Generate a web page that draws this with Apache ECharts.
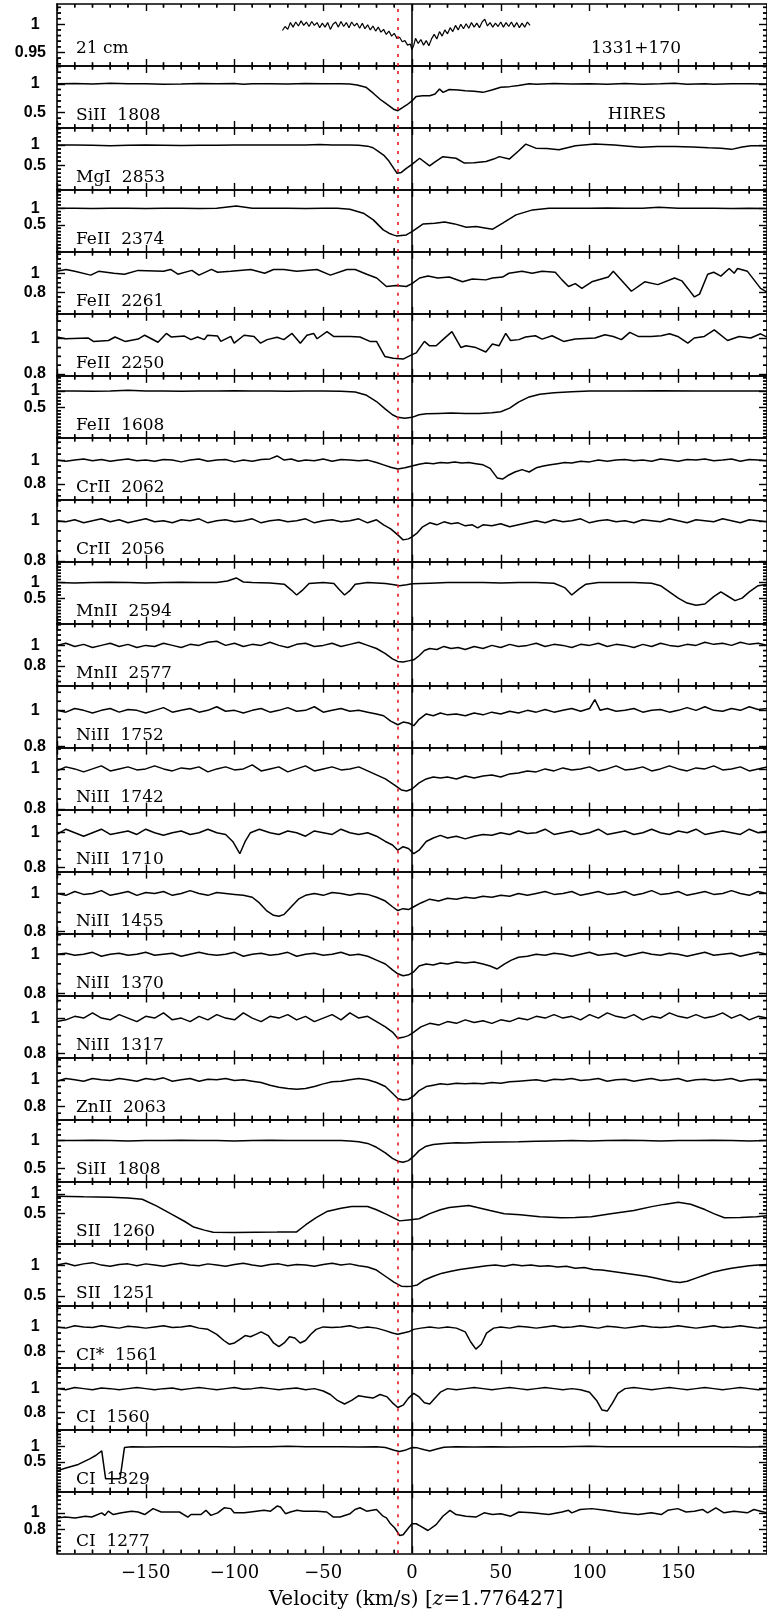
<!DOCTYPE html>
<html><head><meta charset="utf-8">
<script src="https://cdn.jsdelivr.net/npm/echarts@6/dist/echarts.min.js"></script>
<style>html,body{margin:0;padding:0;background:#fff}#c{width:767px;height:1615px}</style>
</head><body><div id="c"></div>
<script>
// ---------------- DATA ----------------
const panelNames = ['21 cm','SiII  1808','MgI  2853','FeII  2374','FeII  2261','FeII  2250','FeII  1608','CrII  2062','CrII  2056','MnII  2594','MnII  2577','NiII  1752','NiII  1742','NiII  1710','NiII  1455','NiII  1370','NiII  1317','ZnII  2063','SiII  1808','SII  1260','SII  1251','CI*  1561','CI  1560','CI  1329','CI  1277'];
const yMin = [0.926,0.23,-0.113,-0.31,0.572,0.79,-0.42,0.666,0.796,-0.326,0.61,0.793,0.797,0.778,0.789,0.789,0.775,0.704,0.265,-0.259,0.349,0.673,0.656,-0.457,0.52];
const yMax = [1.036,1.31,1.42,1.55,1.225,1.141,1.46,1.188,1.105,1.674,1.21,1.137,1.106,1.132,1.115,1.106,1.129,1.167,1.381,1.323,1.351,1.174,1.18,1.566,1.256];
const yLowLabel = [0.95,0.5,0.5,0.5,0.8,0.8,0.5,0.8,0.8,0.5,0.8,0.8,0.8,0.8,0.8,0.8,0.8,0.8,0.5,0.5,0.5,0.8,0.8,0.5,0.8];
const yHighLabel = [1,1,1,1,1,1,1,1,1,1,1,1,1,1,1,1,1,1,1,1,1,1,1,1,1];
const yMinorStep = [0.01,0.1,0.1,0.1,0.05,0.05,0.1,0.05,0.05,0.1,0.05,0.05,0.05,0.05,0.05,0.05,0.05,0.05,0.1,0.1,0.1,0.05,0.05,0.1,0.05];
const xRange = [-200, 200];
const xMajorStep = 50;
const xMinorStep = 10;
const zeroLineV = 0;
const redLineV = -8;

const cm21 = [[-73,0.989],[-71.5,0.996],[-70,0.991],[-68.5,1.003],[-67,0.995],[-65.5,1.004],[-64,0.997],[-62.5,1.006],[-61,0.998],[-59.5,1.004],[-58,0.996],[-56.5,1.005],[-55,0.998],[-53.5,1.003],[-52,0.994],[-50.5,1.002],[-49,0.995],[-47.5,1.003],[-46,0.991],[-44.5,1.0],[-43,1.004],[-41.5,0.995],[-40,1.005],[-38.5,0.996],[-37,1.003],[-35.5,0.994],[-34,1.004],[-32.5,0.997],[-31,1.002],[-29.5,0.993],[-28,1.002],[-26.5,0.992],[-25,0.999],[-23.5,0.99],[-22,0.997],[-20.5,0.988],[-19,0.995],[-17.5,0.986],[-16,0.991],[-14.5,0.982],[-13,0.988],[-11.5,0.979],[-10,0.984],[-8.5,0.975],[-7,0.977],[-5.5,0.969],[-4,0.971],[-2.5,0.963],[-1,0.965],[0,0.955],[1,0.963],[2,0.975],[3.5,0.966],[5,0.973],[6.5,0.963],[8,0.971],[9.5,0.962],[11,0.974],[12.5,0.982],[14,0.974],[15.5,0.987],[17,0.979],[18.5,0.99],[20,0.983],[21.5,0.994],[23,0.987],[24.5,0.998],[26,0.99],[27.5,1.0],[29,0.992],[30.5,1.001],[32,0.993],[33.5,1.003],[35,0.995],[36.5,1.002],[38,0.994],[39.5,1.004],[41,1.009],[42.5,0.997],[44,1.003],[45.5,0.995],[47,1.002],[48.5,0.996],[50,1.004],[51.5,0.995],[53,1.003],[54.5,0.996],[56,1.004],[57.5,0.995],[59,1.003],[60.5,0.994],[62,1.002],[63.5,0.995],[65,1.004],[66.5,0.998]];
const si1808a = [[-200,1.0],[-190,1.005],[-180,0.995],[-170,1.01],[-160,0.998],[-150,1.0],[-140,0.99],[-130,0.995],[-120,1.003],[-110,0.998],[-100,1.005],[-95,0.99],[-90,1.0],[-80,1.0],[-70,0.995],[-60,1.005],[-50,1.0],[-40,1.0],[-35,0.995],[-31,0.98],[-26,0.94],[-22,0.84],[-18,0.73],[-14,0.64],[-10,0.55],[-8,0.53],[-6,0.57],[-3,0.63],[0,0.70],[2.4,0.78],[6,0.79],[10,0.79],[13,0.82],[15.5,0.91],[17.5,0.85],[21,0.90],[26,0.89],[30,0.88],[35,0.87],[40,0.85],[45,0.89],[50,0.94],[55,0.95],[60,0.97],[66,1.0],[70,0.99],[80,1.005],[90,0.995],[100,1.0],[110,0.99],[120,1.005],[130,0.99],[140,1.0],[148,1.01],[155,0.99],[165,1.0],[170,0.99],[180,1.0],[190,1.0],[200,0.995]];
const mg2853 = [[-200,1.0],[-190,1.0],[-180,0.99],[-170,0.98],[-160,0.99],[-150,0.995],[-140,0.99],[-130,0.985],[-120,0.99],[-110,0.99],[-100,0.995],[-90,1.0],[-80,1.0],[-70,1.0],[-60,1.0],[-52,1.01],[-45,1.0],[-40,1.0],[-35,1.0],[-30,0.99],[-25,0.97],[-22,0.93],[-19,0.84],[-16,0.75],[-13,0.6],[-10,0.40],[-8.4,0.30],[-6,0.32],[-3.2,0.42],[0,0.52],[4.3,0.67],[9.9,0.48],[13,0.58],[17.4,0.71],[24.8,0.67],[29.5,0.55],[35,0.56],[41.7,0.59],[46,0.65],[49.2,0.71],[54.8,0.65],[60,0.85],[64.1,1.02],[69.7,0.92],[76,0.91],[82.8,0.88],[92.1,0.98],[103,1.02],[114,1.0],[122,0.97],[129,0.94],[138,0.96],[148,0.96],[158,0.95],[167,0.93],[174,0.92],[180,0.89],[186,0.95],[191,0.98],[200,0.98]];
const fe2374 = [[-200,1.0],[-190,1.0],[-180,0.99],[-170,1.0],[-160,1.0],[-150,0.99],[-140,1.0],[-130,1.0],[-120,0.99],[-110,1.0],[-99,1.07],[-90,1.0],[-80,1.0],[-70,1.0],[-60,0.99],[-50,1.0],[-42,1.0],[-35,0.97],[-27.4,0.85],[-21.8,0.65],[-16.2,0.35],[-13,0.25],[-10.6,0.2],[-8.8,0.17],[-3.2,0.2],[0,0.3],[6.3,0.53],[12.8,0.55],[18.4,0.59],[24,0.53],[30.6,0.43],[36.2,0.45],[41,0.41],[45.5,0.37],[51.1,0.55],[58.6,0.8],[67.9,0.95],[77.2,1.0],[90,1.0],[100,1.0],[110,1.01],[120,1.0],[130,1.0],[139,1.03],[150,1.0],[160,1.0],[170,1.0],[180,0.99],[190,1.0],[200,0.99]];
const fe2261 = [[-200,1.02],[-195,1.04],[-190,1.02],[-181,0.98],[-176.6,1.02],[-168,1.0],[-162,0.99],[-154.3,1.03],[-140,1.02],[-136,1.04],[-131.9,0.99],[-124,1.03],[-120,0.98],[-113,1.04],[-109.5,1.01],[-102,1.02],[-90.8,1.04],[-83,1.0],[-78,1.04],[-72.2,1.04],[-65,1.02],[-53.5,1.04],[-46,0.98],[-36.7,1.04],[-32,1.04],[-25.5,0.99],[-19.9,0.95],[-14.4,0.86],[-8.8,0.87],[-3.2,0.86],[0,0.89],[4.3,0.95],[9,0.97],[14.5,0.95],[21,0.96],[28.5,0.91],[34,0.94],[41.6,0.93],[45.3,0.95],[51,0.96],[54.6,1.0],[62,1.02],[67.7,1.0],[73.3,1.02],[80.7,1.01],[84.5,0.93],[88.2,0.86],[92,0.89],[95.7,0.84],[101.3,0.91],[110.6,0.96],[113.4,1.02],[123.6,0.81],[131.1,0.91],[138.5,0.88],[147.9,0.95],[152,0.92],[155.4,0.84],[159.1,0.75],[162,0.78],[166.6,0.99],[170,1.01],[174,0.97],[178.7,1.05],[181.5,1.0],[183.4,1.05],[189,1.02],[196.4,0.84],[200,0.8]];
const fe2250 = [[-200,1.01],[-195.3,1.0],[-182.3,1.004],[-179.5,0.985],[-171,0.99],[-167.3,1.01],[-161.7,0.985],[-154.3,0.998],[-150.6,1.02],[-143.1,0.98],[-138.4,1.03],[-135.7,1.01],[-128.2,1.015],[-124.5,0.995],[-120.8,1.01],[-117,0.995],[-115.2,1.02],[-109.5,1.015],[-107.7,0.985],[-102.1,1.013],[-100.2,0.975],[-94.6,1.02],[-89,1.013],[-85.3,0.975],[-81.6,0.995],[-76,1.008],[-72.2,0.995],[-67.6,1.03],[-62.9,0.975],[-59.2,1.02],[-55.4,1.03],[-53.5,1.0],[-47.9,1.04],[-44.2,1.013],[-34.9,1.013],[-29.3,1.01],[-23.7,0.985],[-20,0.985],[-15.3,0.90],[-10.6,0.89],[-5,0.885],[0,0.91],[2.4,0.92],[7,0.985],[9.9,0.96],[13.6,0.96],[17.4,0.995],[22.5,1.04],[27.6,0.95],[30.4,0.96],[36,0.95],[41.6,0.925],[45.3,0.97],[49,0.96],[52.8,1.03],[55.5,0.99],[60.2,0.995],[64,1.01],[69.5,1.017],[73.3,0.998],[78.9,1.017],[85.4,0.985],[92,0.998],[103.1,1.004],[108.7,1.023],[113.4,1.013],[118,0.995],[122.7,1.036],[127.4,1.013],[134.8,1.013],[140.4,1.017],[145.1,1.028],[149.7,1.013],[155.4,0.975],[159,1.004],[164.7,1.013],[170.3,1.05],[177.8,0.99],[184.3,1.013],[190.8,1.004],[196.4,1.028],[200,1.01]];
const fe1608 = [[-200,1.0],[-190,1.0],[-180,0.99],[-170,1.0],[-160,1.02],[-150,1.0],[-140,1.0],[-130,0.99],[-120,1.0],[-110,1.0],[-100,1.01],[-90,1.0],[-80,1.0],[-70,0.99],[-60,1.0],[-50,1.0],[-40,0.99],[-32,0.97],[-26,0.88],[-20,0.68],[-15,0.45],[-11,0.28],[-8,0.2],[-4,0.17],[0,0.2],[4,0.28],[8,0.31],[15,0.32],[22,0.33],[30,0.32],[38,0.32],[45,0.34],[50,0.37],[55,0.48],[60,0.66],[66,0.82],[72,0.9],[80,0.95],[90,0.98],[100,1.0],[120,1.0],[140,1.01],[160,1.0],[180,1.0],[200,1.0]];
const cr2062 = [[-200,1.0],[-195,0.99],[-190,1.0],[-185,1.01],[-180,0.995],[-175,1.005],[-170,0.99],[-165,1.0],[-160,1.01],[-155,0.995],[-150,1.0],[-145,0.99],[-140,1.005],[-135,1.0],[-130,0.985],[-125,1.0],[-120,1.01],[-115,0.99],[-110,1.0],[-105,1.005],[-100,0.985],[-95,1.0],[-90,0.99],[-85,1.005],[-80,1.01],[-76,1.035],[-72,1.0],[-68,1.01],[-64,0.99],[-60,1.0],[-55,0.995],[-50,1.01],[-45,0.99],[-40,1.005],[-35,1.0],[-30,0.995],[-25,1.0],[-20,0.98],[-16,0.96],[-12,0.94],[-8,0.925],[-4,0.935],[0,0.95],[4,0.965],[8,0.975],[12,0.97],[16,0.98],[20,0.975],[24,0.985],[28,0.975],[32,0.98],[36,0.97],[40,0.96],[44,0.93],[48,0.85],[51,0.84],[54,0.87],[58,0.9],[62,0.92],[66,0.9],[70,0.935],[74,0.95],[78,0.96],[82,0.97],[86,0.98],[90,0.975],[95,0.99],[100,0.985],[105,1.0],[110,0.99],[115,1.0],[120,1.005],[125,0.995],[130,1.0],[135,0.99],[140,1.01],[145,1.0],[150,0.99],[155,1.005],[160,1.0],[165,1.01],[170,0.995],[175,1.0],[180,1.01],[185,0.99],[190,1.005],[195,1.0],[200,0.995]];
const cr2056 = [[-200,1.0],[-195,0.995],[-190,1.005],[-185,0.99],[-180,1.0],[-175,1.01],[-170,0.995],[-165,1.005],[-160,0.99],[-155,1.0],[-150,1.01],[-145,0.995],[-140,1.0],[-135,0.99],[-130,1.005],[-125,1.0],[-120,1.01],[-115,0.99],[-110,1.0],[-105,1.005],[-100,0.995],[-95,1.0],[-90,1.01],[-85,0.99],[-80,1.0],[-75,1.005],[-70,0.995],[-65,1.0],[-60,1.01],[-55,0.99],[-50,1.0],[-45,1.005],[-40,0.995],[-35,1.0],[-30,1.01],[-25,0.99],[-20,1.005],[-16,0.98],[-12,0.96],[-8,0.93],[-5,0.905],[-2,0.91],[0,0.92],[3,0.94],[6,0.97],[10,0.99],[14,0.98],[18,0.995],[22,0.985],[26,0.99],[30,0.975],[34,0.98],[37,0.965],[40,0.98],[45,0.975],[50,0.985],[55,0.97],[60,0.98],[65,0.99],[70,1.0],[75,0.99],[80,1.005],[85,0.995],[90,1.0],[95,1.01],[100,0.99],[105,1.0],[110,1.005],[115,0.995],[120,1.0],[125,0.99],[130,1.005],[135,1.0],[140,0.995],[145,1.01],[150,1.0],[155,0.99],[160,1.005],[165,1.0],[170,0.995],[175,1.01],[180,1.0],[185,0.99],[190,1.005],[195,1.0],[200,0.995]];
const mn2594 = [[-200,1.0],[-190,0.99],[-180,1.0],[-170,1.01],[-160,1.0],[-150,0.99],[-140,1.0],[-130,1.01],[-120,1.0],[-110,1.0],[-104,1.05],[-99,1.15],[-95,1.02],[-90,1.0],[-80,0.99],[-72,0.95],[-68,0.76],[-65,0.6],[-62,0.74],[-58,0.97],[-50,1.0],[-44,0.97],[-41,0.78],[-38,0.6],[-35,0.74],[-32,0.95],[-25,1.0],[-15,0.97],[-10,0.93],[-7,0.9],[-3,0.93],[0,0.96],[10,0.98],[20,1.0],[30,1.0],[40,1.0],[50,0.99],[60,1.0],[70,1.0],[80,0.98],[86,0.84],[90,0.6],[94,0.79],[98,0.95],[105,1.0],[115,1.0],[125,1.0],[135,0.98],[140,0.9],[145,0.7],[150,0.5],[155,0.34],[160,0.27],[165,0.31],[170,0.55],[174,0.7],[178,0.56],[182,0.42],[186,0.5],[190,0.7],[195,0.9],[200,0.95]];
const mn2577 = [[-200,1.0],[-195,1.02],[-190,0.99],[-185,1.01],[-180,0.98],[-175,1.0],[-170,1.02],[-165,0.99],[-160,1.01],[-155,0.98],[-150,1.0],[-145,0.99],[-140,1.02],[-135,1.0],[-130,0.98],[-125,1.01],[-120,1.0],[-115,1.03],[-110,1.04],[-105,1.0],[-100,1.02],[-95,0.99],[-90,1.01],[-85,1.0],[-80,1.03],[-75,1.0],[-70,0.98],[-65,1.01],[-60,1.02],[-55,0.99],[-50,1.0],[-45,1.02],[-40,0.99],[-35,1.01],[-30,1.03],[-25,1.0],[-20,0.97],[-15,0.92],[-11,0.87],[-8,0.845],[-5,0.84],[-2,0.85],[1,0.86],[4,0.9],[7,0.95],[10,0.97],[14,0.96],[18,0.99],[22,0.97],[26,0.98],[30,0.96],[35,0.99],[40,0.97],[45,1.0],[50,0.98],[55,1.01],[60,0.99],[65,1.0],[70,1.02],[75,0.99],[80,1.01],[85,1.0],[90,0.98],[95,1.01],[100,1.0],[105,1.02],[110,0.99],[115,1.01],[120,1.0],[125,0.98],[130,1.01],[135,0.99],[140,1.02],[145,1.0],[150,0.99],[155,1.01],[160,1.0],[165,1.03],[170,1.01],[175,1.02],[180,1.0],[185,1.03],[190,1.01],[195,1.02],[200,1.0]];
const ni1752 = [[-200,1.0],[-195,0.99],[-190,1.01],[-185,1.0],[-180,0.985],[-175,1.0],[-170,1.01],[-165,0.99],[-160,1.005],[-155,1.0],[-150,0.985],[-145,1.0],[-140,1.015],[-135,0.99],[-130,1.0],[-125,1.01],[-120,0.99],[-115,1.0],[-110,1.02],[-105,0.995],[-100,1.0],[-95,0.985],[-90,1.0],[-85,1.01],[-80,0.99],[-75,1.0],[-70,1.015],[-65,0.995],[-60,1.0],[-55,1.02],[-50,0.99],[-45,1.0],[-40,1.01],[-35,0.995],[-30,1.0],[-25,0.99],[-20,0.98],[-16,0.97],[-12,0.94],[-8,0.92],[-5,0.935],[-2,0.93],[1,0.915],[4,0.95],[8,0.98],[12,0.97],[16,0.985],[20,0.975],[25,0.98],[30,0.97],[35,0.985],[40,0.975],[45,0.99],[50,0.98],[55,0.995],[60,0.985],[65,1.0],[70,0.99],[75,1.005],[80,0.99],[85,1.0],[90,1.01],[95,0.995],[100,1.01],[103,1.06],[106,1.0],[110,1.01],[115,0.995],[120,1.0],[125,1.01],[130,0.99],[135,1.0],[140,1.005],[145,0.99],[150,1.0],[155,1.015],[160,1.0],[165,1.02],[170,1.0],[175,0.995],[180,1.01],[185,1.0],[190,1.02],[195,1.005],[200,1.01]];
const ni1742 = [[-200,0.99],[-195,1.01],[-190,1.0],[-185,0.985],[-180,1.0],[-175,1.015],[-170,0.99],[-165,1.0],[-160,1.01],[-155,0.995],[-150,1.0],[-145,1.015],[-140,1.0],[-135,0.99],[-130,1.005],[-125,1.0],[-120,1.01],[-115,0.985],[-110,1.0],[-105,1.01],[-100,0.995],[-95,1.0],[-90,1.02],[-85,0.99],[-80,1.0],[-75,1.01],[-70,0.985],[-65,1.0],[-60,1.015],[-55,0.99],[-50,1.0],[-45,1.01],[-40,0.995],[-35,1.0],[-30,1.01],[-25,0.99],[-20,0.97],[-15,0.95],[-10,0.92],[-6,0.895],[-3,0.89],[0,0.9],[4,0.93],[8,0.95],[12,0.96],[16,0.955],[20,0.96],[25,0.95],[30,0.965],[35,0.955],[40,0.965],[45,0.97],[50,0.96],[55,0.975],[60,0.98],[65,0.99],[70,0.985],[75,1.0],[80,0.99],[85,1.005],[90,0.995],[95,1.0],[100,1.01],[105,0.99],[110,1.0],[115,1.015],[120,0.995],[125,1.0],[130,1.01],[135,0.99],[140,1.0],[145,1.015],[150,1.0],[155,0.99],[160,1.005],[165,1.0],[170,1.015],[175,0.995],[180,1.0],[185,1.01],[190,0.99],[195,1.0],[200,1.01]];
const ni1710 = [[-200,0.99],[-195,1.02],[-190,1.0],[-185,0.98],[-180,1.0],[-175,1.02],[-170,0.99],[-165,1.0],[-160,1.01],[-155,0.99],[-150,1.02],[-145,1.0],[-140,0.985],[-135,1.0],[-130,1.01],[-125,0.99],[-120,1.0],[-115,1.02],[-110,1.0],[-105,0.99],[-101,0.95],[-97,0.88],[-94,0.95],[-91,1.0],[-86,1.02],[-80,1.0],[-75,0.99],[-70,1.01],[-65,1.0],[-60,0.98],[-55,1.01],[-50,1.0],[-45,0.99],[-40,1.02],[-35,1.0],[-30,0.99],[-25,1.0],[-20,0.98],[-15,0.95],[-11,0.93],[-8,0.9],[-5,0.92],[-2,0.91],[1,0.88],[4,0.9],[8,0.95],[12,0.97],[16,0.985],[20,0.97],[25,0.98],[30,0.965],[35,0.98],[40,0.99],[45,0.985],[50,1.0],[55,0.99],[60,1.01],[65,0.995],[70,1.0],[75,1.02],[80,0.99],[85,1.0],[90,1.01],[95,0.99],[100,1.0],[105,1.02],[110,0.99],[115,1.0],[120,1.01],[125,0.99],[130,1.0],[135,1.02],[140,1.0],[145,0.99],[150,1.01],[155,1.0],[160,1.02],[165,0.99],[170,1.0],[175,1.01],[180,1.0],[185,0.99],[190,1.02],[195,1.0],[200,1.01]];
const ni1455 = [[-200,1.0],[-195,0.99],[-190,1.01],[-185,0.995],[-180,1.0],[-175,1.015],[-170,0.99],[-165,1.0],[-160,1.01],[-155,0.99],[-150,1.005],[-145,1.0],[-140,1.01],[-135,0.99],[-130,1.0],[-125,1.015],[-120,1.0],[-115,0.99],[-110,1.005],[-105,1.0],[-100,0.995],[-95,0.99],[-90,0.98],[-86,0.95],[-82,0.91],[-78,0.885],[-75,0.88],[-72,0.89],[-68,0.93],[-64,0.97],[-60,0.99],[-55,1.0],[-50,0.99],[-45,1.005],[-40,1.0],[-35,0.99],[-30,1.0],[-25,0.995],[-20,0.98],[-15,0.96],[-11,0.93],[-8,0.91],[-5,0.92],[-2,0.915],[1,0.93],[5,0.95],[10,0.97],[15,0.96],[20,0.975],[25,0.97],[30,0.98],[35,0.975],[40,0.985],[45,0.98],[50,0.99],[55,0.985],[60,1.0],[65,0.99],[70,1.0],[75,1.01],[80,0.995],[85,1.0],[90,1.01],[95,0.99],[100,1.0],[105,1.01],[110,0.995],[115,1.0],[120,1.01],[125,0.99],[130,1.0],[135,1.015],[140,0.995],[145,1.0],[150,1.01],[155,0.99],[160,1.0],[165,1.01],[170,0.995],[175,1.0],[180,1.015],[185,1.0],[190,0.99],[195,1.01],[200,1.0]];
const ni1370 = [[-200,1.0],[-195,1.005],[-190,0.995],[-185,1.0],[-180,1.01],[-175,0.99],[-170,1.0],[-165,1.005],[-160,0.995],[-155,1.0],[-150,1.01],[-145,0.995],[-140,1.0],[-135,1.005],[-130,0.99],[-125,1.0],[-120,1.01],[-115,1.0],[-110,0.995],[-105,1.0],[-100,1.01],[-95,0.99],[-90,1.0],[-85,1.005],[-80,0.995],[-75,1.0],[-70,1.01],[-65,0.99],[-60,1.0],[-55,1.005],[-50,0.995],[-45,1.0],[-40,1.01],[-35,0.995],[-30,1.0],[-25,0.99],[-20,0.97],[-15,0.95],[-11,0.92],[-8,0.9],[-5,0.89],[-2,0.895],[1,0.91],[4,0.94],[8,0.95],[12,0.945],[16,0.955],[20,0.95],[25,0.96],[30,0.955],[35,0.96],[40,0.95],[44,0.94],[48,0.925],[52,0.95],[56,0.97],[60,0.985],[65,0.99],[70,1.0],[75,0.995],[80,1.005],[85,1.0],[90,0.99],[95,1.0],[100,1.01],[105,0.995],[110,1.0],[115,1.005],[120,0.99],[125,1.0],[130,1.01],[135,1.0],[140,0.995],[145,1.005],[150,1.0],[155,0.99],[160,1.0],[165,1.01],[170,0.995],[175,1.0],[180,1.005],[185,0.99],[190,1.0],[195,1.01],[200,1.0]];
const ni1317 = [[-200,0.98],[-195,0.99],[-190,1.01],[-185,1.0],[-180,1.03],[-175,1.0],[-170,0.99],[-165,1.02],[-160,1.0],[-155,0.98],[-150,1.01],[-145,1.0],[-140,1.03],[-135,0.99],[-130,1.0],[-125,0.98],[-120,1.01],[-115,0.99],[-110,1.02],[-105,1.0],[-100,0.99],[-95,1.03],[-90,1.0],[-85,0.98],[-80,1.01],[-75,1.0],[-70,1.02],[-65,0.99],[-60,1.01],[-55,0.98],[-50,1.0],[-45,1.02],[-40,0.99],[-35,1.03],[-30,1.0],[-25,1.01],[-20,0.98],[-15,0.95],[-11,0.92],[-8,0.885],[-5,0.89],[-2,0.9],[1,0.92],[5,0.95],[10,0.97],[15,0.96],[20,0.98],[25,0.97],[30,0.99],[35,0.975],[40,0.985],[45,0.97],[50,0.99],[55,0.98],[60,1.0],[65,0.99],[70,1.01],[75,1.0],[80,1.02],[85,1.0],[90,1.01],[95,0.99],[100,1.02],[105,1.0],[110,1.03],[115,1.01],[120,1.0],[125,1.02],[130,0.99],[135,1.01],[140,1.0],[145,1.03],[150,1.01],[155,1.0],[160,1.02],[165,1.0],[170,1.01],[175,1.03],[180,1.0],[185,1.02],[190,0.99],[195,1.01],[200,1.0]];
const zn2063 = [[-200,0.99],[-195,1.01],[-190,1.0],[-185,0.99],[-180,1.01],[-175,1.0],[-170,0.995],[-165,1.01],[-160,1.0],[-155,0.99],[-150,1.01],[-145,1.0],[-140,1.015],[-135,0.99],[-130,1.0],[-125,1.01],[-120,0.99],[-115,1.005],[-110,1.0],[-105,1.01],[-100,0.995],[-95,1.0],[-90,0.99],[-85,0.98],[-80,0.96],[-75,0.945],[-70,0.935],[-65,0.93],[-60,0.935],[-55,0.95],[-50,0.97],[-45,0.985],[-40,0.99],[-35,1.0],[-30,1.01],[-25,1.0],[-20,0.98],[-15,0.95],[-11,0.9],[-8,0.86],[-5,0.85],[-2,0.855],[1,0.88],[4,0.92],[8,0.95],[12,0.96],[16,0.97],[20,0.965],[25,0.975],[30,0.97],[35,0.975],[40,0.97],[45,0.98],[50,0.975],[55,0.985],[60,0.99],[65,0.995],[70,1.0],[75,0.99],[80,1.005],[85,1.0],[90,1.01],[95,0.995],[100,1.0],[105,1.01],[110,0.99],[115,1.0],[120,1.005],[125,0.99],[130,1.0],[135,1.01],[140,0.995],[145,1.0],[150,1.01],[155,0.99],[160,1.0],[165,1.005],[170,0.995],[175,1.0],[180,1.01],[185,0.99],[190,1.0],[195,1.005],[200,1.0]];
const si1808b = [[-200,1.0],[-190,1.0],[-180,1.005],[-170,1.0],[-160,0.995],[-150,1.0],[-140,1.0],[-130,1.005],[-120,1.0],[-110,1.0],[-100,0.995],[-90,1.0],[-80,1.005],[-70,1.0],[-60,1.0],[-50,1.0],[-40,1.0],[-35,0.995],[-30,0.98],[-25,0.95],[-20,0.88],[-15,0.78],[-11,0.68],[-8,0.63],[-5,0.61],[-2,0.64],[1,0.72],[4,0.82],[8,0.9],[12,0.93],[18,0.95],[25,0.96],[30,0.955],[40,0.97],[50,0.975],[60,0.98],[70,0.99],[80,0.995],[90,1.0],[100,0.995],[110,1.0],[120,1.005],[130,1.0],[140,0.995],[150,1.0],[160,1.0],[170,1.005],[180,1.0],[190,0.995],[200,1.0]];
const s1260 = [[-200,0.947],[-185,0.93],[-170,0.921],[-160,0.9],[-152,0.868],[-144,0.7],[-135,0.474],[-128,0.3],[-123,0.159],[-117,0.08],[-112,0.027],[-100,0.02],[-88,0.027],[-76,0.03],[-65,0.035],[-60,0.211],[-54,0.4],[-48,0.553],[-40,0.64],[-34,0.684],[-25,0.684],[-20,0.6],[-14,0.474],[-7,0.316],[-2,0.34],[4,0.369],[10,0.5],[16,0.6],[21,0.658],[32,0.71],[44,0.579],[52,0.5],[61,0.474],[72,0.42],[84,0.395],[92,0.40],[101,0.421],[112,0.5],[125,0.579],[135,0.68],[142,0.737],[150,0.79],[157,0.74],[165,0.605],[170,0.5],[176,0.395],[185,0.40],[194,0.421],[200,0.45]];
const s1251 = [[-200,1.0],[-195,1.03],[-190,0.99],[-185,1.02],[-180,1.04],[-175,1.0],[-170,0.98],[-165,1.01],[-160,1.02],[-155,0.99],[-150,1.02],[-145,1.0],[-140,0.98],[-135,1.01],[-130,1.03],[-125,1.0],[-120,0.99],[-115,1.02],[-110,1.0],[-105,0.98],[-100,1.01],[-95,1.03],[-90,1.0],[-85,0.98],[-80,1.01],[-75,1.02],[-70,0.99],[-65,1.01],[-60,1.0],[-55,0.98],[-50,1.01],[-45,1.03],[-40,1.0],[-35,1.02],[-30,0.99],[-25,0.97],[-20,0.92],[-15,0.82],[-10,0.72],[-6,0.66],[-3,0.655],[0,0.66],[3,0.68],[7,0.76],[12,0.82],[17,0.87],[22,0.9],[27,0.93],[32,0.95],[37,0.97],[42,0.99],[47,1.0],[52,0.98],[57,1.01],[62,0.99],[67,1.0],[72,0.98],[77,0.99],[82,0.97],[87,0.98],[92,0.95],[97,0.96],[102,0.93],[107,0.92],[112,0.9],[117,0.88],[122,0.86],[127,0.84],[132,0.82],[137,0.79],[142,0.76],[147,0.73],[151,0.72],[155,0.74],[160,0.79],[165,0.84],[170,0.89],[175,0.92],[180,0.95],[185,0.97],[190,0.99],[195,1.0],[200,1.01]];
const ci1561s = [[-200,1.0],[-195,0.99],[-190,1.01],[-185,1.0],[-180,0.995],[-175,1.01],[-170,1.0],[-165,0.99],[-160,1.005],[-155,1.0],[-150,0.99],[-145,1.0],[-140,1.01],[-135,0.995],[-130,1.0],[-125,1.01],[-120,0.99],[-115,0.98],[-110,0.94],[-106,0.89],[-103,0.86],[-100,0.87],[-97,0.9],[-94,0.93],[-91,0.92],[-88,0.94],[-85,0.96],[-81,0.93],[-78,0.87],[-75,0.84],[-72,0.87],[-69,0.92],[-66,0.91],[-63,0.87],[-60,0.89],[-57,0.94],[-54,0.98],[-50,1.0],[-45,0.995],[-40,1.0],[-35,1.01],[-30,0.99],[-25,1.0],[-20,0.99],[-15,0.97],[-11,0.95],[-8,0.94],[-5,0.95],[-2,0.96],[1,0.98],[5,0.99],[10,1.0],[15,0.99],[20,1.0],[25,0.99],[30,0.96],[33,0.88],[36,0.82],[39,0.86],[42,0.95],[46,0.99],[50,1.0],[55,0.99],[60,1.005],[65,1.0],[70,0.99],[75,1.0],[80,1.01],[85,0.995],[90,1.0],[95,1.01],[100,1.0],[105,0.99],[110,1.005],[115,1.0],[120,0.99],[125,1.0],[130,1.01],[135,1.0],[140,0.995],[145,1.0],[150,1.01],[155,1.0],[160,0.99],[165,1.0],[170,1.01],[175,0.995],[180,1.0],[185,1.01],[190,1.0],[195,0.99],[200,1.0]];
const ci1560 = [[-200,1.0],[-195,0.99],[-190,1.01],[-185,1.0],[-180,0.99],[-175,1.005],[-170,1.0],[-165,0.99],[-160,1.0],[-155,1.01],[-150,1.0],[-145,0.99],[-140,1.0],[-135,1.005],[-130,0.99],[-125,1.0],[-120,1.01],[-115,1.0],[-110,0.99],[-105,1.0],[-100,1.01],[-95,0.995],[-90,1.0],[-85,1.01],[-80,1.0],[-75,0.99],[-70,1.0],[-65,1.005],[-60,0.99],[-55,1.0],[-50,0.98],[-46,0.95],[-42,0.9],[-38,0.87],[-34,0.9],[-30,0.94],[-26,0.93],[-22,0.92],[-18,0.95],[-14,0.93],[-11,0.88],[-8,0.84],[-5,0.86],[-2,0.92],[1,0.96],[4,0.93],[7,0.88],[10,0.87],[13,0.92],[16,0.97],[20,1.0],[25,0.99],[30,1.0],[35,1.01],[40,1.0],[45,0.99],[50,1.0],[55,1.01],[60,1.0],[65,0.99],[70,1.0],[75,1.01],[80,1.0],[85,0.99],[90,1.0],[95,0.99],[100,0.97],[104,0.9],[107,0.82],[110,0.81],[113,0.88],[116,0.96],[120,1.0],[125,1.01],[130,1.0],[135,0.99],[140,1.0],[145,1.01],[150,1.0],[155,0.99],[160,1.0],[165,1.01],[170,1.0],[175,0.99],[180,1.0],[185,1.01],[190,1.0],[195,0.99],[200,1.0]];
const ci1329 = [[-200,0.21],[-195,0.3],[-188,0.42],[-181.3,0.61],[-178,0.72],[-174.8,0.86],[-172.6,-0.05],[-164.5,-0.05],[-162,0.97],[-158,1.0],[-150,0.99],[-140,1.0],[-130,1.0],[-120,1.0],[-110,1.0],[-100,0.99],[-90,1.0],[-80,1.0],[-70,1.01],[-60,1.0],[-50,1.0],[-40,1.0],[-30,0.99],[-20,1.0],[-15,0.97],[-10,0.88],[-7,0.84],[-4,0.88],[0,0.97],[3,0.96],[7,0.9],[10,0.86],[14,0.92],[18,0.98],[25,1.0],[35,0.99],[45,1.0],[55,0.99],[70,1.0],[85,1.0],[100,1.01],[110,1.0],[125,1.0],[135,1.0],[150,1.0],[165,1.0],[180,1.0],[190,0.99],[200,1.0]];
const ci1277 = [[-200,0.94],[-195.3,0.95],[-189.7,0.94],[-184.1,0.96],[-180.4,0.95],[-174.8,1.0],[-173,0.97],[-171.1,1.02],[-168.3,0.98],[-163.6,1.0],[-158,1.02],[-154.3,1.01],[-150.6,0.98],[-145.9,1.05],[-141.3,1.01],[-135.7,1.01],[-131,1.01],[-126.3,0.95],[-124.5,0.98],[-118.9,0.98],[-116.1,1.03],[-113.3,0.97],[-109.5,1.0],[-105.8,1.06],[-102.1,1.05],[-100.2,1.0],[-94.6,1.0],[-90.9,1.01],[-83.4,1.03],[-79.7,1.02],[-76,1.08],[-74.1,1.07],[-71.3,0.99],[-68.5,1.01],[-64.8,1.03],[-61.1,1.02],[-53.6,1.02],[-48,1.01],[-44.3,0.95],[-40.5,0.95],[-34.9,0.99],[-32.1,1.04],[-29.3,1.06],[-25.6,1.02],[-20,1.04],[-16.3,0.96],[-14.4,0.94],[-12.5,0.88],[-9.7,0.82],[-6.9,0.73],[-5,0.74],[-2,0.82],[0,0.87],[2.4,0.87],[5,0.84],[9,0.79],[13.6,0.86],[17.4,0.96],[21.4,1.03],[24.8,0.98],[30.4,0.96],[36,0.95],[40.6,1.0],[45.3,0.98],[50,0.99],[55.6,0.96],[60.2,1.01],[67.7,1.0],[77,0.98],[84.5,1.01],[88.2,1.03],[90,1.0],[94.7,1.04],[101.3,1.05],[108.7,1.03],[118,1.0],[127.4,0.98],[134.8,1.0],[140.4,0.98],[144.1,1.03],[149.7,1.05],[154.4,1.01],[159.1,1.02],[163.7,1.04],[166.5,1.0],[171.2,1.06],[175.8,1.0],[181.4,1.02],[188.9,1.0],[192.6,1.04],[196.4,1.02],[200,1.0]];

const panelData = [cm21,si1808a,mg2853,fe2374,fe2261,fe2250,fe1608,cr2062,cr2056,mn2594,mn2577,ni1752,ni1742,ni1710,ni1455,ni1370,ni1317,zn2063,si1808b,s1260,s1251,ci1561s,ci1560,ci1329,ci1277];

// ---------------- LAYOUT ----------------
const TOP0 = 4, PH = 61.97, LEFT = 57, PW = 716.4;
const LABEL_RIGHT = 46;
const N = panelNames.length;
const chart = echarts.init(document.getElementById('c'), null, {renderer:'canvas'});
const grids = [], xAxes = [], yAxes = [], series = [], graphics = [];
const AX = {color:'#000', width:1.6};
const serifFont = 'DejaVu Serif';
const yLabelFont = {color:'#000', fontFamily:'Liberation Sans', fontWeight:'bold', fontSize:16, formatter: v => String(+(+v).toFixed(2))};
const TICK_W = 1.4;

function stepVals(lo, hi, step){
  const out = [];
  for (let k = Math.ceil(lo/step - 1e-9); k*step <= hi + 1e-9; k++) out.push(+(k*step).toFixed(4));
  return out;
}
const xMajor = stepVals(xRange[0], xRange[1], xMajorStep);
const xMinor = stepVals(xRange[0], xRange[1], xMinorStep).filter(v => xMajor.indexOf(v) < 0);
const minorVals = [];

for (let i = 0; i < N; i++) {
  const top = TOP0 + i*PH;
  const last = i === N-1;
  const lo = yMin[i], hi = yMax[i];
  grids.push({left: LEFT, top: top, width: PW, height: PH});
  const labs = [yLowLabel[i], yHighLabel[i]];
  const yMinorVals = stepVals(lo, hi, yMinorStep[i]).filter(v => labs.indexOf(v) < 0);
  minorVals.push(yMinorVals);

  const xBase = () => ({
    gridIndex:i, type:'value', min:xRange[0], max:xRange[1],
    axisLine:{show:true, onZero:false, lineStyle:AX},
    axisTick:{show:true, inside:true, length:7, customValues:xMajor, lineStyle:{color:'#000', width:TICK_W}},
    splitLine:{show:false}
  });
  xAxes.push(Object.assign(xBase(), {position:'bottom',
    axisLabel:{show:last, customValues:xMajor.filter(v => Math.abs(v) < xRange[1]), margin:11, color:'#000',
      fontFamily:serifFont, fontSize:18, lineHeight:18,
      formatter: v => (v < 0 ? '\u2212' + (-v) : String(v))}}));
  xAxes.push(Object.assign(xBase(), {position:'top', axisLabel:{show:false}}));

  const yBase = () => ({
    gridIndex:i, type:'value', min:lo, max:hi, splitLine:{show:false},
    axisLine:{show:true, onZero:false, lineStyle:AX},
    axisTick:{show:true, inside:true, length:8, customValues:labs, lineStyle:{color:'#000', width:TICK_W}}
  });
  // lower label on the left axis; the "1" label is carried by the right axis, pulled over to the left side
  yAxes.push(Object.assign(yBase(), {position:'left',
    axisLabel:Object.assign({show:true, customValues:[yLowLabel[i]], margin:LEFT - LABEL_RIGHT}, yLabelFont)}));
  yAxes.push(Object.assign(yBase(), {position:'right',
    axisLabel:Object.assign({show:true, customValues:[yHighLabel[i]], margin:-(LEFT + PW - LABEL_RIGHT), align:'right'}, yLabelFont)}));

  series.push({
    type:'line', xAxisIndex:2*i, yAxisIndex:2*i, data:panelData[i], showSymbol:false, symbol:'none',
    lineStyle:{color:'#000', width: i===0 ? 1.2 : 1.5}, animation:false, silent:true, z:3,
    markLine:{silent:true, symbol:['none','none'], label:{show:false}, animation:false,
      data:[
        {xAxis:zeroLineV, lineStyle:{color:'#000', type:'solid', width:1.6}},
        {xAxis:redLineV, lineStyle:{color:'#e8141c', type:[3,6], width:1.6}}
      ]}
  });

  // minor ticks: custom series positioned by the panel's scales
  const tickItems = xMinor.map(v => [v, hi, 0]).concat(yMinorVals.map(v => [xRange[0], v, 1]));
  series.push({
    type:'custom', xAxisIndex:2*i, yAxisIndex:2*i, data:tickItems, dimensions:['x','y','k'], encode:{x:0, y:1},
    silent:true, animation:false, clip:false, z:4,
    renderItem: (params, api) => {
      const x = api.value(0), y = api.value(1), k = api.value(2);
      const st = {stroke:'#000', lineWidth:TICK_W, fill:null};
      let a, b, segs;
      if (k === 0) {
        a = api.coord([x, hi]); b = api.coord([x, lo]);
        segs = [[a[0], a[1], a[0], a[1] + 3.6], [b[0], b[1], b[0], b[1] - 3.6]];
      } else {
        a = api.coord([xRange[0], y]); b = api.coord([xRange[1], y]);
        segs = [[a[0], a[1], a[0] + 4, a[1]], [b[0], b[1], b[0] - 4, b[1]]];
      }
      return {type:'group', children: segs.map(s => ({type:'line', shape:{x1:s[0], y1:s[1], x2:s[2], y2:s[3]}, style:st}))};
    }
  });

  graphics.push({type:'text', x:76, y: top + (i===0 ? 44.5 : 50),
    style:{text:panelNames[i], fontFamily:serifFont, fontSize:17, fill:'#000', verticalAlign:'middle', align:'left'}});
}
graphics.push({type:'text', x:636, y:48.5, style:{text:'1331+170', fontFamily:serifFont, fontSize:17, fill:'#000', verticalAlign:'middle', align:'center'}});
graphics.push({type:'text', x:637, y:115, style:{text:'HIRES', fontFamily:serifFont, fontSize:17, fill:'#000', verticalAlign:'middle', align:'center'}});
graphics.push({type:'text', x:416, y:1600, style:{
  text:'{a|Velocity (km/s) [}{i|z}{a|=1.776427]}', align:'center', verticalAlign:'middle',
  rich:{a:{fontFamily:serifFont, fontSize:20, fill:'#000', color:'#000'}, i:{fontFamily:serifFont, fontStyle:'italic', fontSize:20, fill:'#000', color:'#000'}}}});

chart.setOption({
  animation:false, backgroundColor:'#fff',
  grid:grids, xAxis:xAxes, yAxis:yAxes, series:series, graphic:graphics
});

// fallback: the same minor ticks placed via the chart's own coordinate conversion
try {
  const tickGraphics = [];
  const seg = (x1, y1, x2, y2) => ({type:'line', silent:true, z:100, shape:{x1, y1, x2, y2}, style:{stroke:'#000', lineWidth:TICK_W}});
  for (let i = 0; i < N; i++) {
    const f = {xAxisIndex:2*i, yAxisIndex:2*i};
    xMinor.forEach(v => {
      const a = chart.convertToPixel(f, [v, yMax[i]]), b = chart.convertToPixel(f, [v, yMin[i]]);
      if (a && b) { tickGraphics.push(seg(a[0], a[1], a[0], a[1] + 3.6)); tickGraphics.push(seg(b[0], b[1], b[0], b[1] - 3.6)); }
    });
    minorVals[i].forEach(v => {
      const a = chart.convertToPixel(f, [xRange[0], v]), b = chart.convertToPixel(f, [xRange[1], v]);
      if (a && b) { tickGraphics.push(seg(a[0], a[1], a[0] + 4, a[1])); tickGraphics.push(seg(b[0], b[1], b[0] - 4, b[1])); }
    });
  }
  chart.setOption({graphic: graphics.concat(tickGraphics)});
} catch (e) { console.log(e); }
</script></body></html>
